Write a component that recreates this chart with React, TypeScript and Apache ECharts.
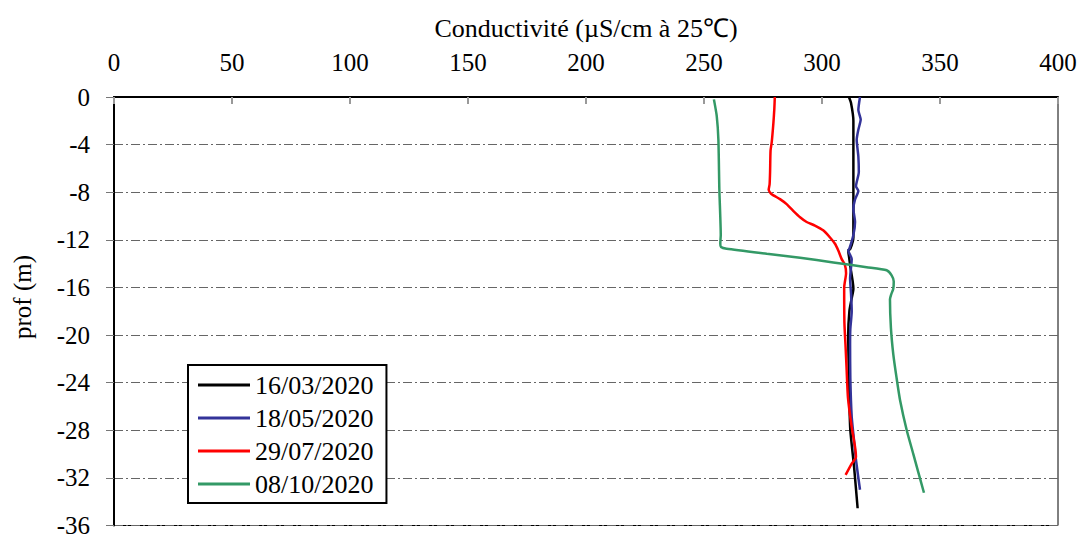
import React, { useEffect, useRef } from "react";
import * as echarts from "echarts";

// Conductivity profiles (µS/cm at 25 °C) against depth (m) for four survey dates.
const seriesNames = ["16/03/2020", "18/05/2020", "29/07/2020", "08/10/2020"];
const seriesColors = ["#000000", "#333399", "#ff0000", "#339966"];

const marchDepth = [0, -0.5, -2, -6, -10, -11.8, -12.75, -12.9, -13.5, -14.1, -15.5, -16.1, -17, -18, -20, -23.6, -25, -28, -31.1, -34.55];
const marchCond = [311.4, 312.3, 313.3, 313.3, 313.3, 313.3, 312, 311.1, 311.5, 311.9, 313, 313.3, 312.5, 311.6, 311.1, 311.4, 311.5, 312, 313.6, 315.1];

const mayDepth = [0, -1.1, -1.9, -2.75, -3.6, -5, -6.3, -7.5, -7.9, -8.6, -9.4, -10.5, -11.6, -12.75, -12.9, -13.6, -15.25, -16.5, -18, -19.5, -20.8, -23.6, -26.9, -28.7, -30.5, -33];
const mayCond = [316.1, 315.4, 316.4, 315.4, 314.7, 315.4, 315.6, 314.4, 315.4, 314, 313.3, 314, 313.3, 311.6, 311.1, 312.6, 311.9, 312.3, 312.6, 312, 311.9, 312, 312.6, 313.5, 314.4, 316.1];

const julyDepth = [0, -1, -2.2, -3.8, -4.5, -6.3, -7.33, -7.8, -8.17, -8.58, -9.0, -9.56, -10.1, -10.5, -10.8, -11.2, -11.8, -12.33, -12.9, -13.6, -14.1, -14.8, -16, -19, -21, -22.75, -25.25, -27.75, -29.4, -30.25, -30.8, -31.75];
const julyCond = [280, 279.8, 279.4, 278.7, 278.2, 278, 277.8, 277.4, 278.7, 282.2, 285, 287.8, 290.7, 293.5, 297, 300.5, 303.4, 305.5, 306.9, 308.3, 309.7, 310.2, 309.4, 309.5, 310, 310.4, 311, 312.6, 314, 314.4, 312.6, 310];

const octoberDepth = [-0.2, -1.6, -3.6, -7.75, -11.6, -12.3, -12.6, -12.75, -13.17, -13.5, -13.9, -14.3, -14.56, -14.98, -15.5, -16.1, -16.6, -17, -19.4, -21.6, -23.6, -25.5, -28, -30, -33.25];
const octoberCond = [254.2, 255.4, 256.1, 256.5, 257.1, 256.9, 257.2, 259.6, 276.6, 290.7, 304.8, 318.9, 327.4, 329.5, 330.4, 330.2, 329.3, 328.8, 329.2, 330.2, 331.6, 333.1, 335.9, 338.7, 343.2];

const profiles = [
  { depth: marchDepth, cond: marchCond },
  { depth: mayDepth, cond: mayCond },
  { depth: julyDepth, cond: julyCond },
  { depth: octoberDepth, cond: octoberCond },
];

const xAxisTitle = "Conductivité (µS/cm à 25℃)";
const yAxisTitle = "prof (m)";

const FONT = "'Liberation Serif', 'Times New Roman', serif";

export default function App() {
  const ref = useRef<HTMLDivElement>(null);

  useEffect(() => {
    if (!ref.current) return;
    const chart = echarts.init(ref.current, null, { renderer: "svg" });

    const series = profiles.map((p, i) => ({
      name: seriesNames[i],
      type: "line" as const,
      data: p.cond.map((c, k) => [c, p.depth[k]]),
      showSymbol: false,
      smooth: 0.2,
      lineStyle: { color: seriesColors[i], width: 2.5 },
      itemStyle: { color: seriesColors[i] },
      z: 3 + i,
    }));

    chart.setOption({
      animation: false,
      backgroundColor: "#ffffff",
      textStyle: { fontFamily: FONT },
      grid: {
        left: 114,
        right: 22,
        top: 97,
        bottom: 9,
        show: true,
        borderColor: "#000",
        borderWidth: 1,
      },
      xAxis: {
        type: "value",
        position: "top",
        min: 0,
        max: 400,
        interval: 50,
        name: xAxisTitle,
        nameLocation: "middle",
        nameGap: 56,
        nameTextStyle: { fontFamily: FONT, fontSize: 26, color: "#000" },
        axisLine: { show: true, lineStyle: { color: "#000", width: 2 } },
        axisTick: { show: true, inside: true, length: 7, lineStyle: { color: "#999", width: 2 } },
        axisLabel: { fontFamily: FONT, fontSize: 25, color: "#000", margin: 22 },
        splitLine: { show: false },
      },
      yAxis: {
        type: "value",
        min: -36,
        max: 0,
        interval: 4,
        axisLine: { show: true, lineStyle: { color: "#000", width: 2 } },
        axisTick: { show: true, inside: false, length: 8, lineStyle: { color: "#777", width: 1 } },
        axisLabel: { fontFamily: FONT, fontSize: 25, color: "#000", margin: 24 },
        splitLine: { show: true, lineStyle: { color: "#666", width: 1, type: [9, 3, 2, 3] } },
      },
      graphic: [
        {
          type: "text",
          x: 22,
          y: 297,
          rotation: Math.PI / 2,
          style: {
            text: yAxisTitle,
            fontFamily: FONT,
            fontSize: 25,
            fill: "#000",
            align: "center",
            verticalAlign: "middle",
          },
        },
      ],
      legend: {
        orient: "vertical",
        left: 188,
        top: 365,
        data: seriesNames,
        icon: "rect",
        itemWidth: 52,
        itemHeight: 3,
        itemGap: 5,
        padding: [6, 13, 5, 10],
        backgroundColor: "#fff",
        borderColor: "#000",
        borderWidth: 2,
        textStyle: { fontFamily: FONT, fontSize: 26, color: "#000", lineHeight: 28 },
      },
      series,
    });

    return () => chart.dispose();
  }, []);

  return <div ref={ref} style={{ width: 1080, height: 538, position: "absolute", left: 0, top: 0 }} />;
}
